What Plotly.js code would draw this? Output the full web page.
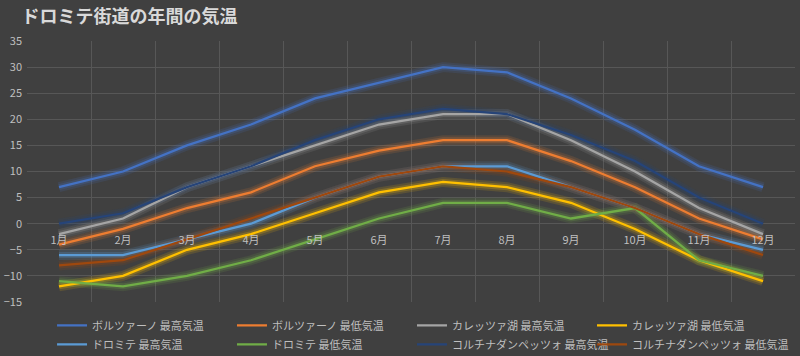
<!DOCTYPE html>
<html>
<head>
<meta charset="utf-8">
<script src="https://cdn.plot.ly/plotly-3.0.1.min.js"></script>
<style>html,body{margin:0;padding:0;background:#404040;}</style>
</head>
<body>
<div id="chart" style="width:800px;height:356px;"></div>
<script>
const months = ["1月","2月","3月","4月","5月","6月","7月","8月","9月","10月","11月","12月"];
const seriesNames = ["ボルツァーノ 最高気温","ボルツァーノ 最低気温","カレッツァ湖 最高気温","カレッツァ湖 最低気温","ドロミテ 最高気温","ドロミテ 最低気温","コルチナダンペッツォ 最高気温","コルチナダンペッツォ 最低気温"];
const bolzanoMax = [7,10,15,19,24,27,30,29,24,18,11,7];
const bolzanoMin = [-4,-1,3,6,11,14,16,16,12,7,1,-3];
const carezzaMax = [-2,1,7,11,15,19,21,21,16,10,3,-2];
const carezzaMin = [-12,-10,-5,-2,2,6,8,7,4,-1,-7,-11];
const dolomitiMax = [-6,-6,-3,0,5,9,11,11,7,3,-2,-5];
const dolomitiMin = [-11,-12,-10,-7,-3,1,4,4,1,3,-7,-10];
const cortinaMax = [0,2,7,11,16,20,22,21,17,12,5,0];
const cortinaMin = [-8,-7,-3,1,5,9,11,10,7,3,-2,-6];
const colors = ["#4472C4","#ED7D31","#A5A5A5","#FFC000","#5B9BD5","#70AD47","#264478","#9E480E"];
const values = [bolzanoMax,bolzanoMin,carezzaMax,carezzaMin,dolomitiMax,dolomitiMin,cortinaMax,cortinaMin];
const legendIds = ["legend","legend2","legend3","legend4"];

const traces = [];
values.forEach((v,i)=>{
  traces.push({x:months,y:v,type:"scatter",mode:"lines",showlegend:false,hoverinfo:"skip",
    line:{color:colors[i],width:10,shape:"linear"},opacity:0.14});
  traces.push({x:months,y:v,type:"scatter",mode:"lines",showlegend:false,hoverinfo:"skip",
    line:{color:colors[i],width:6,shape:"linear"},opacity:0.22});
});
values.forEach((v,i)=>{
  traces.push({x:months,y:v,type:"scatter",mode:"lines",name:seriesNames[i],
    legend:legendIds[i%4],
    line:{color:colors[i],width:2.25}});
});

const layout = {
  width:800,height:356,
  paper_bgcolor:"#404040",plot_bgcolor:"#404040",
  margin:{l:27,r:5,t:41,b:54,autoexpand:false},
  font:{family:"'Noto Sans CJK JP', 'Noto Sans', sans-serif",color:"#bfbfbf",size:11},
  title:{text:"<b>ドロミテ街道の年間の気温</b>",x:0.027,xanchor:"left",y:0.953,yanchor:"middle",
    font:{size:18,color:"#d9d9d9",family:"'Noto Sans CJK JP', sans-serif"}},
  xaxis:{type:"category",tickson:"boundaries",showgrid:true,gridcolor:"#575757",gridwidth:1,
    ticks:"",showline:false,zeroline:false,anchor:"free",position:0.3,ticklabelstandoff:8,
    tickfont:{size:11,color:"#bfbfbf"},range:[-0.5,11.5],fixedrange:true},
  yaxis:{range:[-15,35],dtick:5,tick0:0,showgrid:true,gridcolor:"#575757",gridwidth:1,
    zeroline:true,zerolinecolor:"#575757",zerolinewidth:1,ticks:"",
    tickfont:{size:11,color:"#bfbfbf"},ticklabelstandoff:4},
  showlegend:true
};
const legendX = [0.0326,0.2669,0.5013,0.7357];
legendIds.forEach((id,k)=>{
  layout[id] = {orientation:"v",x:legendX[k],xanchor:"left",y:-0.034,yanchor:"top",
    font:{size:11,color:"#bfbfbf"},bgcolor:"rgba(0,0,0,0)",tracegroupgap:0,itemwidth:30};
});
Plotly.newPlot("chart",traces,layout,{staticPlot:true,displayModeBar:false});
</script>
</body>
</html>
